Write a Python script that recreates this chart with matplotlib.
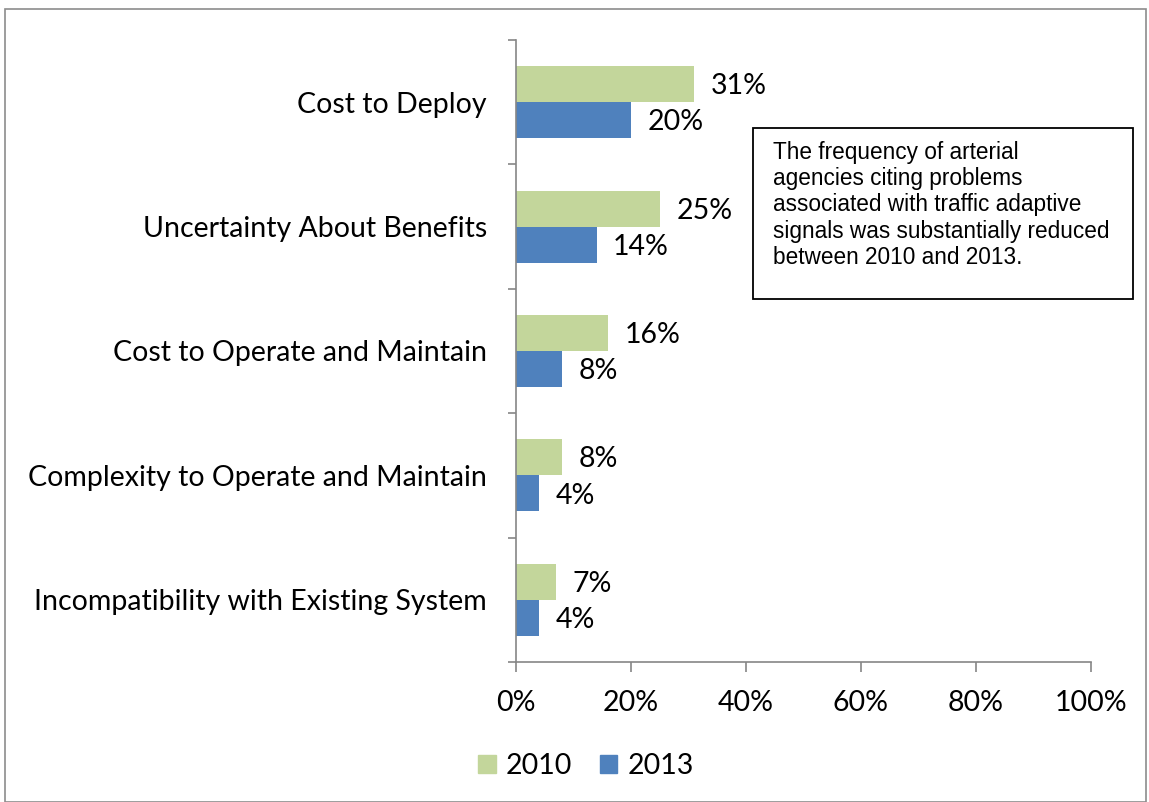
import matplotlib
matplotlib.use("Agg")
import matplotlib.pyplot as plt
from matplotlib.patches import Rectangle, Patch
import numpy as np

categories = [
    "Cost to Deploy",
    "Uncertainty About Benefits",
    "Cost to Operate and Maintain",
    "Complexity to Operate and Maintain",
    "Incompatibility with Existing System",
]
vals_2010 = [31, 25, 16, 8, 7]
vals_2013 = [20, 14, 8, 4, 4]
series_names = ["2010", "2013"]
xticks = [0, 20, 40, 60, 80, 100]
note = ("The frequency of arterial\nagencies citing problems\n"
        "associated with traffic adaptive\nsignals was substantially reduced\n"
        "between 2010 and 2013.")

green = "#C3D69B"
blue = "#4F81BD"
axis_gray = "#868686"
fs = 20.5

plt.rcParams["font.family"] = ["Lato", "DejaVu Sans"]

fig = plt.figure(figsize=(11.49, 8.02), dpi=100)
ax = fig.add_axes([516 / 1149, 1 - 662 / 802, (1091 - 516) / 1149, (662 - 40) / 802])

y = np.arange(len(categories))
h = 0.29
b1 = ax.barh(y - h / 2, vals_2010, height=h, color=green, label=series_names[0])
b2 = ax.barh(y + h / 2, vals_2013, height=h, color=blue, label=series_names[1])

for bars, vals in ((b1, vals_2010), (b2, vals_2013)):
    for rect, v in zip(bars, vals):
        ax.annotate(f"{v}%", (rect.get_width(), rect.get_y() + rect.get_height() / 2),
                    xytext=(12, -1.5), textcoords="offset points",
                    ha="left", va="center", fontsize=fs)

ax.set_xlim(0, 100)
ax.set_ylim(len(categories) - 0.5, -0.5)
ax.set_xticks(xticks)
ax.set_xticklabels([f"{t}%" for t in xticks], fontsize=fs)
ax.set_yticks(np.arange(len(categories) + 1) - 0.5)
ax.set_yticklabels([])
ax.set_yticks(y, minor=True)
ax.set_yticklabels(categories, minor=True, fontsize=fs)
ax.tick_params(axis="y", which="minor", length=0, pad=21)
ax.tick_params(axis="y", which="major", length=6, width=1.2, color=axis_gray, direction="out")
ax.tick_params(axis="x", length=7, width=1.2, color=axis_gray, direction="out", pad=13)

for s in ("top", "right"):
    ax.spines[s].set_visible(False)
for s in ("left", "bottom"):
    ax.spines[s].set_color(axis_gray)
    ax.spines[s].set_linewidth(1.2)

handles = [Patch(color=green), Patch(color=blue)]
fig.legend(handles, series_names, loc="center", bbox_to_anchor=(586 / 1149, 1 - 766 / 802),
           ncol=2, frameon=False, fontsize=fs, handlelength=0.63, handleheight=0.63,
           handletextpad=0.35, columnspacing=0.95, borderpad=0)

fig.text(773 / 1149, 1 - 141 / 802, note, fontsize=16.3, family=["Liberation Sans"],
         ha="left", va="top", linespacing=1.18)
fig.add_artist(Rectangle((753 / 1149, 1 - 299 / 802), (1133 - 753) / 1149, (299 - 128) / 802,
                         transform=fig.transFigure, fill=False, edgecolor="black", linewidth=1.3))

fig.add_artist(Rectangle((5 / 1149, 0), 1141 / 1149, 1 - 9 / 802,
                         transform=fig.transFigure, fill=False, edgecolor="#8c8c8c", linewidth=1.2))

fig.savefig("out.png", dpi=100)
